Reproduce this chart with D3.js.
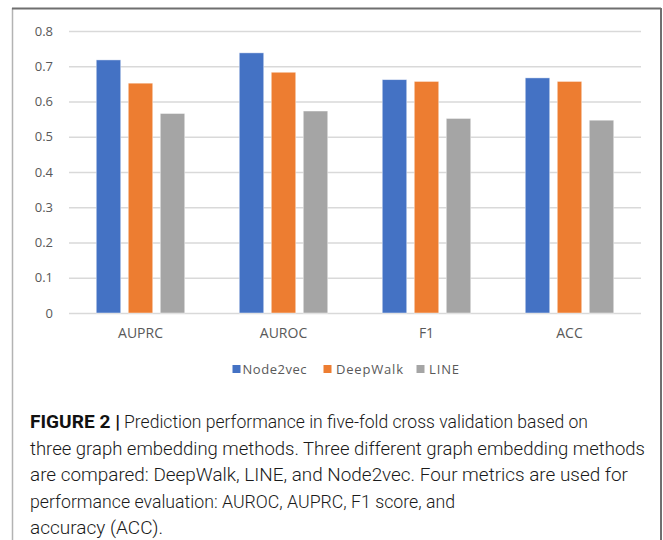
<!DOCTYPE html>
<html>
<head>
<meta charset="utf-8">
<script src="https://cdn.jsdelivr.net/npm/d3@7"></script>
<style>
  html, body { margin: 0; padding: 0; background: #fff; }
  svg { display: block; }
</style>
</head>
<body>
<script>
// Metrics on the x axis
const categories = ["AUPRC", "AUROC", "F1", "ACC"];
// Embedding methods (legend order)
const methods = ["Node2vec", "DeepWalk", "LINE"];
// Scores per method, in category order
const node2vec = [0.718, 0.738, 0.662, 0.667];
const deepWalk = [0.652, 0.683, 0.657, 0.657];
const line = [0.566, 0.573, 0.552, 0.547];
// Y axis ticks
const yTicks = [0, 0.1, 0.2, 0.3, 0.4, 0.5, 0.6, 0.7, 0.8];
// Caption
const captionBold = "FIGURE 2 |";
const captionLines = [
  "Prediction performance in five-fold cross validation based on",
  "three graph embedding methods. Three different graph embedding methods",
  "are compared: DeepWalk, LINE, and Node2vec. Four metrics are used for",
  "performance evaluation: AUROC, AUPRC, F1 score, and",
  "accuracy (ACC)."
];

const seriesValues = { "Node2vec": node2vec, "DeepWalk": deepWalk, "LINE": line };
const colors = { "Node2vec": "#4472C4", "DeepWalk": "#ED7D31", "LINE": "#A5A5A5" };

const W = 663, H = 540;
const svg = d3.select("body").append("svg").attr("width", W).attr("height", H);

// Card frame
svg.append("line").attr("x1", 12.5).attr("x2", 12.5).attr("y1", 8).attr("y2", H)
  .attr("stroke", "#b3b3b3").attr("stroke-width", 1.5);
svg.append("line").attr("x1", 12).attr("x2", 661).attr("y1", 8.5).attr("y2", 8.5)
  .attr("stroke", "#6f6f6f").attr("stroke-width", 2);
svg.append("line").attr("x1", 661).attr("x2", 661).attr("y1", 8).attr("y2", H)
  .attr("stroke", "#6f6f6f").attr("stroke-width", 2);

const plot = { left: 69, right: 641, top: 31, bottom: 313 };

const x0 = d3.scaleBand().domain(categories).range([plot.left, plot.right]).padding(0);
const y = d3.scaleLinear().domain([0, 0.8]).range([plot.bottom, plot.top]);
const groupHalf = 44.25;
const x1 = d3.scaleBand().domain(methods).range([-groupHalf, groupHalf])
  .paddingInner(0.235).paddingOuter(0);

// Gridlines + y labels via axis
const yAxis = d3.axisLeft(y).tickValues(yTicks)
  .tickSize(-(plot.right - plot.left))
  .tickPadding(16)
  .tickFormat(d => d === 0 ? "0" : d3.format(".1f")(d));
const gy = svg.append("g").attr("transform", `translate(${plot.left},0)`).call(yAxis);
gy.select(".domain").remove();
gy.selectAll(".tick line").attr("stroke", "#d9d9d9").attr("stroke-width", 1.4);
gy.selectAll(".tick text")
  .attr("fill", "#595959")
  .style("font-family", "'Open Sans', sans-serif")
  .style("font-size", "13px");

// Bars
const groups = svg.append("g").selectAll("g").data(categories).join("g")
  .attr("transform", d => `translate(${x0(d) + x0.bandwidth() / 2},0)`);
groups.selectAll("rect")
  .data((c, i) => methods.map(m => ({ m, v: seriesValues[m][i] })))
  .join("rect")
  .attr("x", d => x1(d.m))
  .attr("width", x1.bandwidth())
  .attr("y", d => y(d.v))
  .attr("height", d => y(0) - y(d.v))
  .attr("fill", d => colors[d.m])
  .attr("stroke", "#ffffff")
  .attr("stroke-opacity", 0.55)
  .attr("stroke-width", 0.8);

// X axis labels
const xAxis = d3.axisBottom(x0).tickSize(0).tickPadding(15);
const gx = svg.append("g").attr("transform", `translate(0,${plot.bottom})`).call(xAxis);
gx.select(".domain").remove();
gx.selectAll(".tick text")
  .attr("fill", "#595959")
  .style("font-family", "'Open Sans', sans-serif")
  .style("font-size", "14px");

// Legend
const legendItems = [
  { m: "Node2vec", sx: 232.5, tx: 242.5, w: 64 },
  { m: "DeepWalk", sx: 323.5, tx: 336, w: 67 },
  { m: "LINE", sx: 416.5, tx: 429, w: 30 }
];
const lg = svg.append("g");
legendItems.forEach(it => {
  lg.append("rect").attr("x", it.sx).attr("y", 365).attr("width", 8).attr("height", 8)
    .attr("fill", colors[it.m]);
  lg.append("text").attr("x", it.tx).attr("y", 374).text(it.m)
    .attr("fill", "#595959")
    .attr("textLength", it.w).attr("lengthAdjust", "spacing")
    .style("font-family", "'Open Sans', sans-serif")
    .style("font-size", "13px");
});

// Caption
const cap = svg.append("g")
  .style("font-family", "Roboto, 'Liberation Sans', Arial, sans-serif");
cap.append("text").attr("x", 30).attr("y", 428).text(captionBold)
  .attr("fill", "#111").style("font-weight", "bold").style("font-size", "18px")
  .attr("textLength", 90).attr("lengthAdjust", "spacingAndGlyphs");
const lineEnds = [588, 645, 628, 455, 163];
const lineStarts = [124, 30, 30, 30, 30];
captionLines.forEach((t, i) => {
  cap.append("text")
    .attr("x", lineStarts[i]).attr("y", 428 + i * 26.5)
    .text(t)
    .attr("fill", "#1a1a1a")
    .style("font-weight", 300)
    .style("font-size", "18px")
    .attr("textLength", lineEnds[i] - lineStarts[i])
    .attr("lengthAdjust", "spacingAndGlyphs");
});
</script>
</body>
</html>
